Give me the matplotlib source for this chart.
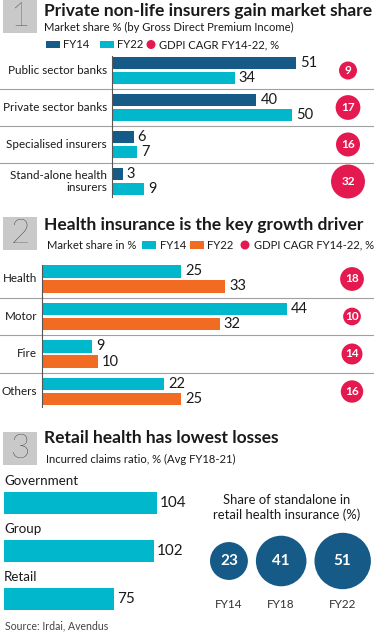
import numpy as np
import matplotlib
matplotlib.use("Agg")
import matplotlib.pyplot as plt
from matplotlib.patches import Rectangle, Ellipse

W, H = 374, 632

# panel 1: market share by insurer type
p1_cats = ["Public sector banks", "Private sector banks", "Specialised insurers",
           "Stand-alone health\ninsurers"]
p1_fy14 = [51, 40, 6, 3]
p1_fy22 = [34, 50, 7, 9]
p1_cagr = [9, 17, 16, 32]

# panel 2: market share by segment
p2_cats = ["Health", "Motor", "Fire", "Others"]
p2_fy14 = [25, 44, 9, 22]
p2_fy22 = [33, 32, 10, 25]
p2_cagr = [18, 10, 14, 16]

# panel 3: claims ratio + standalone share
p3_cats = ["Government", "Group", "Retail"]
p3_icr = [104, 102, 75]
p3_years = ["FY14", "FY18", "FY22"]
p3_share = [23, 41, 51]

DARK = "#165b87"
CYAN = "#00b7cc"
ORANGE = "#f26b22"
RED = "#e4194f"
GREY = "#c9c9c9"
SEP = "#a0a0a0"
TXT = "#1a1a1a"

plt.rcParams["font.family"] = ["Lato", "DejaVu Sans"]

fig = plt.figure(figsize=(W / 100, H / 100), dpi=100)


def px_axes(x0, y0, x1, y1):
    ax = fig.add_axes([x0 / W, 1 - y1 / H, (x1 - x0) / W, (y1 - y0) / H])
    ax.axis("off")
    return ax


def ftext(x, y, s, **kw):
    kw.setdefault("color", TXT)
    return fig.text(x / W, 1 - y / H, s, **kw)


def frect(x0, y0, x1, y1, color):
    fig.patches.append(Rectangle((x0 / W, 1 - y1 / H), (x1 - x0) / W, (y1 - y0) / H,
                                 transform=fig.transFigure, color=color, lw=0))


def fdot(x, y, d, color):
    fig.patches.append(Ellipse((x / W, 1 - y / H), d / W, d / H,
                               transform=fig.transFigure, color=color, lw=0))


def header(box_y, num, title, title_base):
    frect(3, box_y, 37, box_y + 33, GREY)
    ftext(20, box_y + 17, num, fontsize=24, ha="center", va="center",
          fontweight="light")
    ftext(44, title_base, title, fontsize=12.5, fontweight="bold", va="baseline")


def bar_panel(ax, fy14, fy22, cagr, cats, c14, c22, scale, zero_px, circ_px, lab_px, k):
    y = np.arange(len(cats))
    ax.set_xlim(-zero_px / scale, (W - zero_px) / scale)
    ax.set_ylim(len(cats) - 0.5, -0.5)
    ax.barh(y - 0.2, fy14, height=0.34, color=c14, zorder=2)
    ax.barh(y + 0.2, fy22, height=0.34, color=c22, zorder=2)
    for i in range(len(cats)):
        ax.text(fy14[i] + 4 / scale, y[i] - 0.2, str(fy14[i]), fontsize=10.5,
                va="center", color=TXT)
        ax.text(fy22[i] + 4 / scale, y[i] + 0.2, str(fy22[i]), fontsize=10.5,
                va="center", color=TXT)
        ax.text(-lab_px / scale, y[i], cats[i], fontsize=8.4, ha="right",
                va="center", multialignment="right", color=TXT)
    for b in y[:-1] + 0.5:
        ax.axhline(b, color=SEP, lw=0.8, zorder=1)
    ax.axvline(0, ymin=0.02, ymax=0.97, color="#555555", lw=0.8, zorder=3)
    cx = (circ_px - zero_px) / scale
    ax.scatter([cx] * len(cagr), y, s=(k * 0.72) ** 2 * np.array(cagr),
               color=RED, zorder=3, lw=0)
    for i, v in enumerate(cagr):
        ax.text(cx, y[i], str(v), fontsize=8.5, fontweight="bold", color="white",
                ha="center", va="center", zorder=4)


# ---- panel 1
header(0, "1", "Private non-life insurers gain market share", 16)
ftext(44, 31, "Market share % (by Gross Direct Premium Income)", fontsize=8.1,
      va="baseline")
frect(46, 41, 60, 48, DARK)
ftext(63, 44.5, "FY14", fontsize=8.1, va="center")
frect(100, 41, 114, 48, CYAN)
ftext(117, 44.5, "FY22", fontsize=8.1, va="center")
fdot(151, 44.5, 9, RED)
ftext(159, 44.5, "GDPI CAGR FY14-22, %", fontsize=8.1, va="center")

ax1 = px_axes(0, 52, W, 200)
bar_panel(ax1, p1_fy14, p1_fy22, p1_cagr, p1_cats, DARK, CYAN,
          3.61, 112, 348, 5, 6.0)

# ---- panel 2
header(217, "2", "Health insurance is the key growth driver", 230)
ftext(47, 245, "Market share in %", fontsize=8.1, va="center")
frect(142, 241, 156, 249, CYAN)
ftext(160, 245, "FY14", fontsize=8.1, va="center")
frect(190, 241, 204, 249, ORANGE)
ftext(207, 245, "FY22", fontsize=8.1, va="center")
fdot(245, 245, 9, RED)
ftext(254, 245, "GDPI CAGR FY14-22, %", fontsize=8.1, va="center")

ax2 = px_axes(0, 260.25, W, 410.25)
bar_panel(ax2, p2_fy14, p2_fy22, p2_cagr, p2_cats, CYAN, ORANGE,
          5.56, 42, 352, 5, 5.6)

# ---- panel 3
header(432, "3", "Retail health has lowest losses", 443)
ftext(46, 463, "Incurred claims ratio, % (Avg FY18-21)", fontsize=8.1,
      va="baseline")

ax3 = px_axes(4, 479, 220, 623)
scale3 = 1.467
ax3.set_xlim(0, 216 / scale3)
ax3.set_ylim(len(p3_cats) - 0.5, -0.5)
y3 = np.arange(len(p3_cats))
ax3.barh(y3, p3_icr, height=0.46, color=CYAN)
for i, v in enumerate(p3_icr):
    ax3.text(v + 3 / scale3, y3[i], str(v), fontsize=11, va="center", color=TXT)
    ax3.text(0, y3[i] - 0.37, p3_cats[i], fontsize=9.6, va="baseline", color=TXT)

ftext(287, 507.5, "Share of standalone in\nretail health insurance (%)",
      fontsize=9.4, ha="center", va="center", linespacing=1.2)

# bubbles: sized by value, packed left to right with a constant gap
ax4 = px_axes(200, 520, W, 620)
ax4.set_xlim(200, W)
ax4.set_ylim(620, 520)
k3 = 7.9
diam = k3 * np.sqrt(np.array(p3_share))
gap = 8
xs = []
x = 210
for d in diam:
    x_c = x + d / 2
    xs.append(x_c)
    x = x_c + d / 2 + gap
ax4.scatter(xs, [561] * len(xs), s=(diam * 0.72) ** 2, color=DARK, lw=0)
for xc, v, yr in zip(xs, p3_share, p3_years):
    ax4.text(xc, 561, str(v), fontsize=11, fontweight="bold", color="white",
             ha="center", va="center")
    ax4.text(xc, 604, yr, fontsize=8.5, ha="center", va="center", color="#333333")

ftext(5, 626, "Source: Irdai, Avendus", fontsize=7.6, va="center", color="#444444")

fig.savefig("out.png", dpi=100)
